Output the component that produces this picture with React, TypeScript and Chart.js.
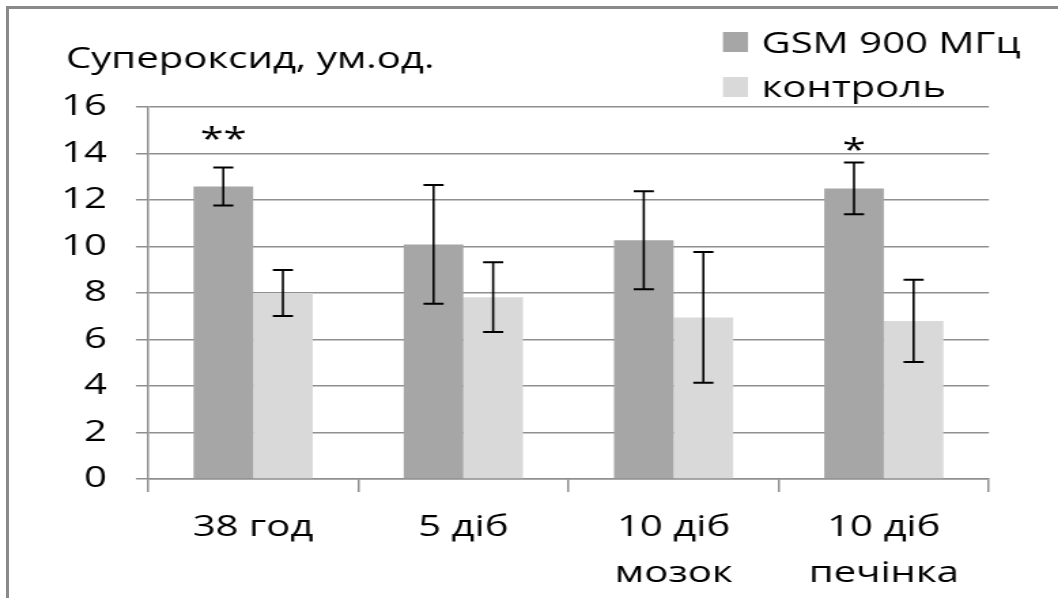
import React, { useEffect, useRef } from "react";
import { Chart, registerables } from "chart.js";

Chart.register(...registerables);

const categories: (string | string[])[] = ["38 год", "5 діб", ["10 діб", "мозок"], ["10 діб", "печінка"]];
const gsmValues = [12.58, 10.09, 10.27, 12.5];
const gsmErrors = [0.82, 2.55, 2.11, 1.11];
const controlValues = [8.0, 7.82, 6.95, 6.8];
const controlErrors = [0.99, 1.5, 2.81, 1.77];
const significance = ["**", "", "", "*"];
const significanceAt = [14.2, 0, 0, 13.7];
const yTicks = { min: 0, max: 16, step: 2 };
const seriesNames = ["GSM 900 МГц", "контроль"];
const yTitle = "Супероксид, ум.од.";

const STRETCH = 1.36;
const W = 1058;
const H = 598;
const IW = Math.round(W / STRETCH);
const FONT = "'Open Sans', 'DejaVu Sans', sans-serif";
const FS = 29.5;
const GRID = "#8f8f8f";

export default function App() {
  const ref = useRef<HTMLCanvasElement | null>(null);

  useEffect(() => {
    const canvas = ref.current;
    if (!canvas) return;
    const errors = [gsmErrors, controlErrors];

    const overlay = {
      id: "overlay",
      afterDatasetsDraw(chart: any) {
        const ctx = chart.ctx;
        const y = chart.scales.y;
        ctx.save();
        ctx.strokeStyle = "#000";
        chart.data.datasets.forEach((ds: any, di: number) => {
          const meta = chart.getDatasetMeta(di);
          meta.data.forEach((bar: any, i: number) => {
            const v = ds.data[i];
            const e = errors[di][i];
            const top = y.getPixelForValue(v + e);
            const bot = y.getPixelForValue(v - e);
            const cap = 7.4;
            ctx.lineWidth = 1.6;
            ctx.beginPath();
            ctx.moveTo(bar.x, top);
            ctx.lineTo(bar.x, bot);
            ctx.stroke();
            ctx.lineWidth = 2;
            ctx.beginPath();
            ctx.moveTo(bar.x - cap, top);
            ctx.lineTo(bar.x + cap, top);
            ctx.moveTo(bar.x - cap, bot);
            ctx.lineTo(bar.x + cap, bot);
            ctx.stroke();
          });
        });
        const meta0 = chart.getDatasetMeta(0);
        ctx.fillStyle = "#000";
        ctx.font = `31px ${FONT}`;
        ctx.textAlign = "center";
        ctx.textBaseline = "alphabetic";
        significance.forEach((s: string, i: number) => {
          if (!s) return;
          ctx.fillText(s, meta0.data[i].x, y.getPixelForValue(significanceAt[i]));
        });
        ctx.restore();
      },
      afterDraw(chart: any) {
        const ctx = chart.ctx;
        ctx.save();
        ctx.fillStyle = "#000";
        ctx.font = `${FS}px ${FONT}`;
        ctx.textAlign = "left";
        ctx.textBaseline = "alphabetic";
        ctx.fillText(yTitle, 48.5, 68);
        const rows = [
          { box: 32, base: 53 },
          { box: 77, base: 97 },
        ];
        chart.data.datasets.forEach((ds: any, i: number) => {
          ctx.fillStyle = ds.backgroundColor;
          ctx.fillRect(531.6, rows[i].box, 18.4, 20);
          ctx.fillStyle = "#000";
          ctx.fillText(ds.label, 560, rows[i].base);
        });
        ctx.restore();
      },
    };

    const chart = new Chart(canvas, {
      type: "bar",
      data: {
        labels: categories as any,
        datasets: [
          { label: seriesNames[0], data: gsmValues, backgroundColor: "#a6a6a6", borderWidth: 0 },
          { label: seriesNames[1], data: controlValues, backgroundColor: "#d9d9d9", borderWidth: 0 },
        ],
      },
      options: {
        animation: false,
        responsive: false,
        devicePixelRatio: 1,
        layout: { padding: { left: 0, right: IW - 989 / STRETCH, top: 107, bottom: 0 } },
        datasets: { bar: { categoryPercentage: 0.567, barPercentage: 1 } },
        plugins: { legend: { display: false }, tooltip: { enabled: false }, title: { display: false } },
        scales: {
          x: {
            type: "category",
            offset: true,
            grid: { drawOnChartArea: false, drawTicks: true, tickLength: 13, color: GRID, lineWidth: 1.5, offset: true },
            border: { display: true, color: GRID, width: 1.5 },
            ticks: {
              color: "#000",
              padding: 13,
              maxRotation: 0,
              autoSkip: false,
              font: { family: FONT, size: FS, lineHeight: 1.55 },
            },
            afterFit: (s: any) => {
              s.height = H - 479;
            },
          },
          y: {
            min: yTicks.min,
            max: yTicks.max,
            grid: { color: GRID, lineWidth: 1.5, tickLength: 8.8, drawTicks: true },
            border: { display: true, color: GRID, width: 1.5 },
            ticks: {
              stepSize: yTicks.step,
              color: "#000",
              padding: 21.3,
              font: { family: FONT, size: FS },
            },
            afterFit: (s: any) => {
              s.width = 148 / STRETCH;
            },
          },
        },
      },
      plugins: [overlay],
    });
    return () => chart.destroy();
  }, []);

  return (
    <div
      style={{
        position: "fixed",
        left: 0,
        top: 0,
        width: W,
        height: H,
        background: "#fff",
        overflow: "hidden",
      }}
    >
      <canvas
        ref={ref}
        width={IW}
        height={H}
        style={{ transform: `scaleX(${W / IW})`, transformOrigin: "0 0", display: "block" }}
      />
      <div
        style={{
          position: "absolute",
          left: 6,
          top: 6,
          width: W,
          height: H,
          borderTop: "3px solid #8a8a8a",
          borderLeft: "3px solid #8a8a8a",
        }}
      />
    </div>
  );
}
